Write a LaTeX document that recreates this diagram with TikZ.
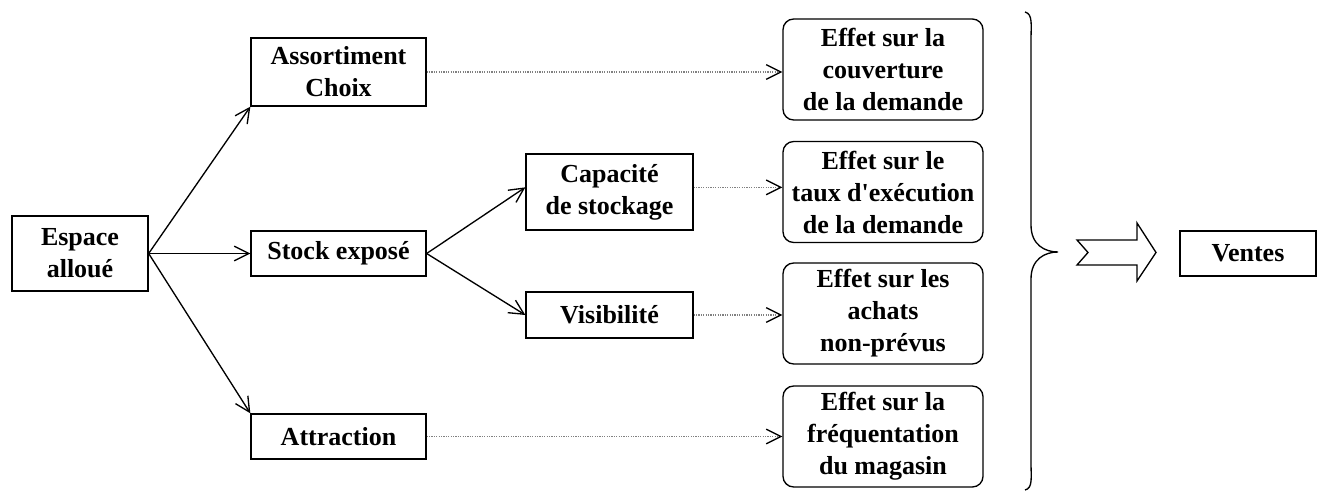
\documentclass[tikz,border=0pt]{standalone}
\usepackage{fontspec}
\setmainfont{Liberation Serif}[Ligatures=TeXOff]
\usetikzlibrary{arrows.meta}
\begin{document}
\begin{tikzpicture}[x=0.75pt,y=-0.75pt,
  every node/.style={font=\fontsize{19.5pt}{24pt}\selectfont\bfseries, align=center, inner sep=0pt},
  sqbox/.style={draw, line width=1pt},
  effbox/.style={draw, line width=1pt, rounded corners=8pt, minimum width=150pt, minimum height=75.75pt},
  conn/.style={line width=1pt, -{Straight Barb[length=11pt,width=11pt,line width=1pt]}},
  dotconn/.style={gray, line width=0.8pt, densely dotted, -{Straight Barb[length=11pt,width=11pt,line width=1pt,black]}}
]
\useasboundingbox (0,0) rectangle (1323,491);
\node[sqbox, minimum width=102pt, minimum height=56.25pt] (esp) at (80,253.5) {Espace\\alloué};
\node[sqbox, minimum width=131.25pt, minimum height=51pt] (ass) at (338.5,72) {Assortiment\\Choix};
\node[sqbox, minimum width=131.25pt, minimum height=33.75pt] (stock) at (338.5,253.5) {Stock exposé};
\node[sqbox, minimum width=131.25pt, minimum height=33.75pt] (attr) at (338.5,436.5) {Attraction};
\node[sqbox, minimum width=125.25pt, minimum height=57pt] (cap) at (609.5,192) {Capacité\\de stockage};
\node[sqbox, minimum width=125.25pt, minimum height=34.5pt] (vis) at (609.5,315) {Visibilité};
\node[effbox] (e1) at (883,69.5) {Effet sur la\\couverture\\de la demande};
\node[effbox] (e2) at (883,192) {Effet sur le\\taux d'exécution\\de la demande};
\node[effbox] (e3) at (883,313.5) {Effet sur les\\achats\\non-prévus};
\node[effbox] (e4) at (883,436.5) {Effet sur la\\fréquentation\\du magasin};
\node[sqbox, minimum width=102pt, minimum height=33.75pt] (ventes) at (1248,253.5) {Ventes};

\draw[conn] (esp.east) -- (ass.south west);
\draw[conn] (esp.east) -- (stock.west);
\draw[conn] (esp.east) -- (attr.north west);
\draw[conn] (stock.east) -- ([yshift=3.5pt]cap.west);
\draw[conn] (stock.east) -- (vis.west);

\draw[dotconn] (ass.east) -- (ass.east -| e1.west);
\draw[dotconn] ([yshift=3.5pt]cap.east) -- ([yshift=3.5pt]cap.east -| e2.west);
\draw[dotconn] (vis.east) -- (vis.east -| e3.west);
\draw[dotconn] (attr.east) -- (attr.east -| e4.west);

% brace
\coordinate (btop) at (1025,12);
\coordinate (btip) at (1058,252);
\coordinate (bbot) at (1025,490);
\draw[line width=1pt] (btop) .. controls (1033,14) and (1031,25) .. (1031,40) -- (1031,225)
  .. controls (1031,245) and (1045,252) .. (btip)
  .. controls (1045,252) and (1031,259) .. (1031,279) -- (1031,462)
  .. controls (1031,478) and (1033,488) .. (bbot);

% big arrow
\draw[line width=1pt, line join=miter] (1077,240) -- (1137,240) -- (1137,223) -- (1156,252.5) -- (1137,281) -- (1137,265) -- (1077,265) -- (1088,252.5) -- cycle;
\end{tikzpicture}
\end{document}
